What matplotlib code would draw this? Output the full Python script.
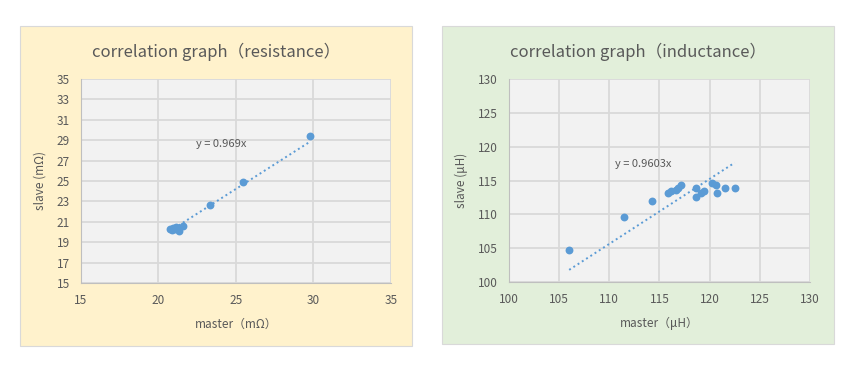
import numpy as np
import matplotlib
matplotlib.use("Agg")
import matplotlib.pyplot as plt
from matplotlib.patches import Rectangle

plt.rcParams['font.family'] = ['Noto Sans CJK JP', 'DejaVu Sans']

# resistance data (mOhm)
res_master = [20.75, 20.85, 20.95, 21.05, 21.15, 21.3, 21.55, 23.35, 25.45, 29.75]
res_slave = [20.25, 20.15, 20.35, 20.3, 20.45, 20.1, 20.6, 22.6, 24.9, 29.4]
res_slope = 0.969
res_ticks_x = [15, 20, 25, 30, 35]
res_ticks_y = [15, 17, 19, 21, 23, 25, 27, 29, 31, 33, 35]

# inductance data (uH)
ind_master = [106.0, 111.5, 114.25, 115.9, 116.2, 116.6, 116.85, 117.1,
              118.6, 118.6, 119.1, 119.4, 120.2, 120.6, 120.7, 121.55, 122.5]
ind_slave = [104.7, 109.55, 111.95, 113.2, 113.45, 113.6, 113.9, 114.3,
             113.95, 112.6, 113.2, 113.5, 114.7, 114.4, 113.2, 113.85, 113.95]
ind_slope = 0.9603
ind_ticks = [100, 105, 110, 115, 120, 125, 130]

BLUE = '#5B9BD5'
TXT = '#595959'

fig = plt.figure(figsize=(8.58, 3.73), dpi=100)
fig.patch.set_facecolor('white')

# panel backgrounds
fig.patches.append(Rectangle((0.0233, 0.0724), 0.4569, 0.858, transform=fig.transFigure,
                             facecolor='#FFF2CC', edgecolor='#D9D9D9', lw=0.8, zorder=-5))
fig.patches.append(Rectangle((0.5152, 0.0777), 0.4569, 0.8525, transform=fig.transFigure,
                             facecolor='#E2EFDA', edgecolor='#D9D9D9', lw=0.8, zorder=-5))


def draw(ax, xs, ys, slope, xticks, yticks, title, tx, xlabel, ylabel, eq, eqpos):
    ax.set_facecolor('#F2F2F2')
    ax.scatter(xs, ys, s=32, color=BLUE, zorder=3, linewidths=0)
    xl = np.array([min(xs), max(xs)])
    ax.plot(xl, slope * xl, color=BLUE, ls=(0, (1, 1.6)), lw=1.4, zorder=2)
    ax.set_xlim(xticks[0], xticks[-1])
    ax.set_ylim(yticks[0], yticks[-1])
    ax.set_xticks(xticks)
    ax.set_yticks(yticks)
    ax.grid(True, color='#D9D9D9', lw=1.3)
    ax.set_axisbelow(True)
    for s in ['top', 'right']:
        ax.spines[s].set_visible(False)
    for s in ['left', 'bottom']:
        ax.spines[s].set_color('#BFBFBF')
    ax.tick_params(length=0, labelsize=8.5, labelcolor=TXT, pad=8)
    # title centred on the panel, not on the plot area
    fig.text(tx, 0.862, title, fontsize=12, color=TXT, ha='center', va='center')
    ax.set_xlabel(xlabel, fontsize=8.5, color=TXT, labelpad=8)
    ax.set_ylabel(ylabel, fontsize=8.5, color=TXT, labelpad=7)
    ax.text(eqpos[0], eqpos[1], eq, fontsize=8, color=TXT, va='center')


ax1 = fig.add_axes([0.0944, 0.2413, 0.3613, 0.5469])
draw(ax1, res_master, res_slave, res_slope, res_ticks_x, res_ticks_y,
     'correlation graph（resistance）', 0.2517, 'master（mΩ）', 'slave (mΩ)',
     'y = 0.969x', (22.4, 28.6))

ax2 = fig.add_axes([0.5932, 0.244, 0.3508, 0.544])
draw(ax2, ind_master, ind_slave, ind_slope, ind_ticks, ind_ticks,
     'correlation graph（inductance）', 0.7436, 'master（μH）', 'slave (μH)',
     'y = 0.9603x', (110.6, 117.5))

fig.savefig('out.png', dpi=100, facecolor='white')
